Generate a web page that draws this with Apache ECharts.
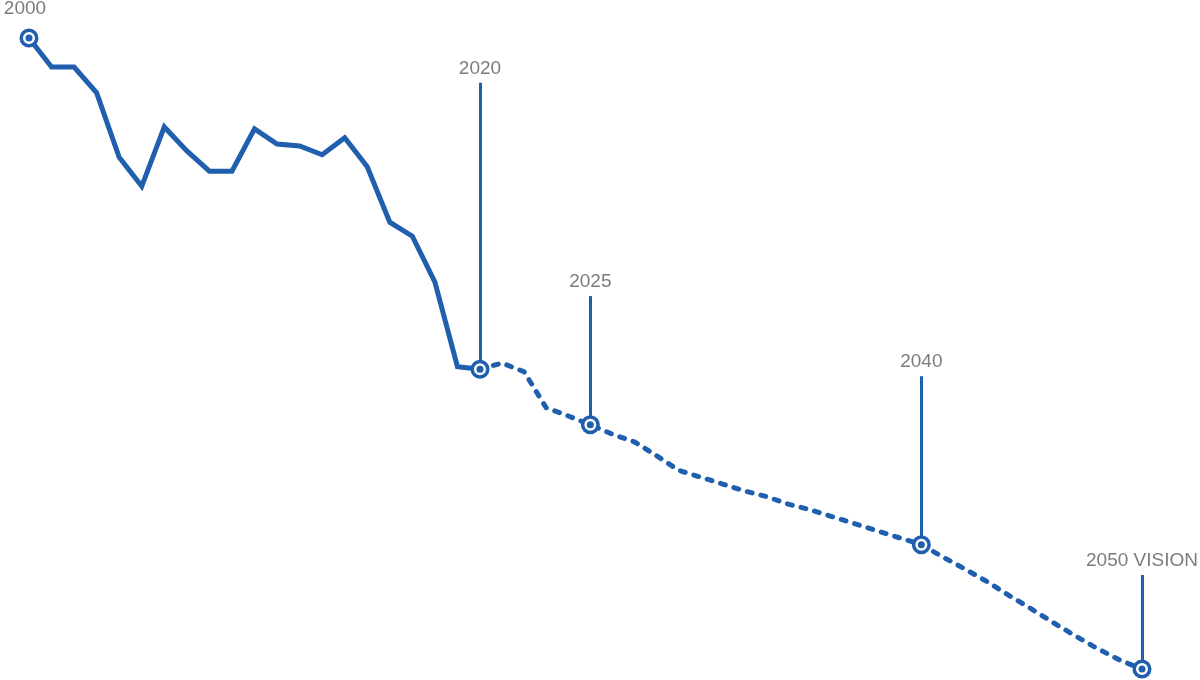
<!DOCTYPE html>
<html><head><meta charset="utf-8">
<script src="https://cdn.jsdelivr.net/npm/echarts@6/dist/echarts.min.js"></script>
<style>html,body{margin:0;padding:0;background:#fff}#c{width:1200px;height:680px}</style>
</head><body><div id="c"></div>
<script>
// Historical (solid) segment
const histYears = [2000,2001,2002,2003,2004,2005,2006,2007,2008,2009,2010,2011,2012,2013,2014,2015,2016,2017,2018,2019,2020];
const histValues = [100.0,95.4,95.4,91.3,81.1,76.5,85.9,82.1,78.9,78.9,85.6,83.2,82.9,81.5,84.2,79.6,70.8,68.6,61.3,47.9,47.5];
// Projected (dashed) segment
const projYears = [2020,2021,2022,2023,2024,2025,2026,2027,2028,2029,2030,2031,2032,2033,2034,2035,2036,2037,2038,2039,2040,2041,2042,2043,2044,2045,2046,2047,2048,2049,2050];
const projValues = [47.5,48.5,47.1,41.4,40.1,38.7,37.2,36.0,33.8,31.5,30.4,29.3,28.2,27.3,26.1,25.2,24.1,23.0,21.9,20.8,19.7,17.7,15.8,13.8,11.6,9.5,7.3,5.2,3.2,1.4,0];
// Milestones
const milestoneYears = [2000, 2020, 2025, 2040, 2050];
const milestoneLabels = ['2000', '2020', '2025', '2040', '2050 VISION'];
const calloutLevels = [null, 92.9, 59.1, 46.4, 14.9];

const BLUE = '#1f5fae';
const GREY = '#7c7c7c';
const FONT = '"Liberation Sans", Arial, sans-serif';

function valueAt(year) {
  let i = projYears.indexOf(year);
  if (i >= 0) return projValues[i];
  i = histYears.indexOf(year);
  return histValues[i];
}

const histPts = histYears.map((y, i) => [y, histValues[i]]);
const projPts = projYears.map((y, i) => [y, projValues[i]]);

const ms0 = [], ms1 = [], lines = [];
milestoneYears.forEach((y, i) => {
  const pt = { value: [y, valueAt(y)], name: milestoneLabels[i] };
  if (y < 2020) ms0.push(pt); else ms1.push(pt);
  if (calloutLevels[i] != null) {
    lines.push([
      { coord: [y, valueAt(y)], name: milestoneLabels[i] },
      { coord: [y, calloutLevels[i]], name: milestoneLabels[i] }
    ]);
  }
});

function rings(idx, data, withLabel) {
  return [{
    type: 'scatter', xAxisIndex: idx, yAxisIndex: idx, data: data, z: 5, clip: false,
    symbol: 'circle', symbolSize: 15.5,
    itemStyle: { color: '#fff', borderColor: BLUE, borderWidth: 3.5, opacity: 1 },
    label: withLabel ? {
      show: true, position: 'top', distance: 10, offset: [-4, 0],
      formatter: p => p.name, color: GREY, fontSize: 19, fontFamily: FONT
    } : { show: false },
    silent: true
  }, {
    type: 'scatter', xAxisIndex: idx, yAxisIndex: idx, data: data, z: 6, clip: false,
    symbol: 'circle', symbolSize: 7,
    itemStyle: { color: BLUE, opacity: 1 },
    silent: true
  }];
}

const chart = echarts.init(document.getElementById('c'), null, { renderer: 'canvas' });
chart.setOption({
  animation: false,
  backgroundColor: '#fff',
  grid: [
    { left: 29, right: 720, top: 38, bottom: 11 },
    { left: 480, right: 58, top: 38, bottom: 11 }
  ],
  xAxis: [
    { type: 'value', gridIndex: 0, min: 2000, max: 2020, show: false },
    { type: 'value', gridIndex: 1, min: 2020, max: 2050, show: false }
  ],
  yAxis: [
    { type: 'value', gridIndex: 0, min: 0, max: 100, show: false },
    { type: 'value', gridIndex: 1, min: 0, max: 100, show: false }
  ],
  series: [
    {
      type: 'line', xAxisIndex: 0, yAxisIndex: 0, data: histPts, showSymbol: false, clip: false, z: 2,
      lineStyle: { color: BLUE, width: 5, join: 'miter' }, silent: true
    },
    {
      type: 'line', xAxisIndex: 1, yAxisIndex: 1, data: projPts, showSymbol: false, clip: false, z: 2,
      lineStyle: { color: BLUE, width: 5, type: [5, 9], cap: 'round', join: 'round' }, silent: true,
      markLine: {
        silent: true, symbol: ['none', 'none'], animation: false,
        lineStyle: { color: BLUE, width: 3, type: 'solid', opacity: 1 },
        label: {
          show: true, position: 'end', distance: 5, formatter: p => p.name,
          color: GREY, fontSize: 19, fontFamily: FONT
        },
        emphasis: { disabled: true },
        data: lines
      }
    },
    ...rings(0, ms0, true),
    ...rings(1, ms1, false)
  ]
});
</script>
</body></html>
